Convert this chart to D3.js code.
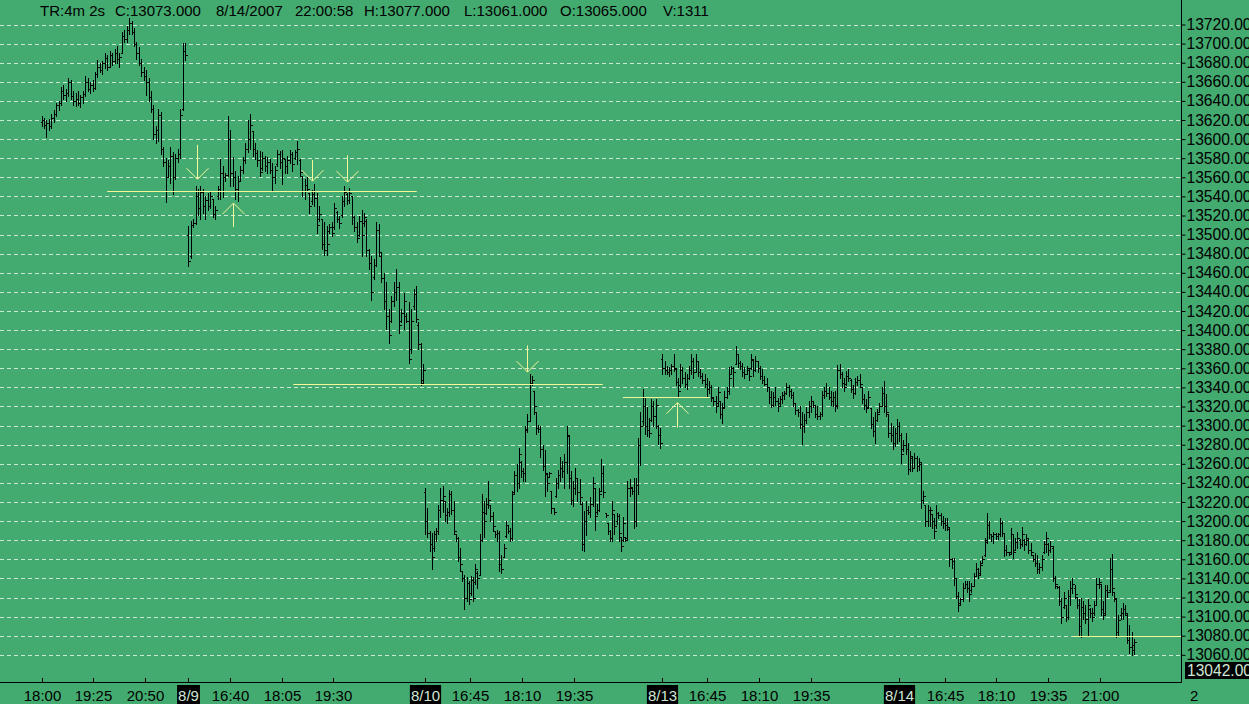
<!DOCTYPE html>
<html>
<head>
<meta charset="utf-8">
<script src="https://cdn.jsdelivr.net/npm/d3@7"></script>
<style>
  body { margin: 0; background: #43ab6f; overflow: hidden; }
  svg { display: block; font-family: "Liberation Sans", Arial, sans-serif; }
</style>
</head>
<body>
<div id="chart"></div>
<script>
// OHLC bars, 4 min, one array per session: [open, high, low, close]
const bars0808 = [
  [13618,13624,13614,13620],[13620,13622,13612,13615],[13615,13620,13602,13617],[13617,13621,13610,13614],
  [13614,13626,13612,13622],[13622,13630,13618,13626],[13626,13638,13624,13636],[13636,13640,13630,13638],
  [13638,13655,13636,13650],[13650,13657,13642,13646],[13646,13652,13640,13648],[13648,13664,13645,13660],
  [13660,13662,13642,13645],[13645,13650,13636,13640],[13640,13648,13635,13642],[13642,13650,13636,13638],
  [13638,13646,13634,13644],[13644,13650,13638,13647],[13647,13666,13645,13660],[13660,13664,13650,13652],
  [13652,13660,13648,13657],[13657,13662,13650,13654],[13654,13670,13652,13668],[13668,13683,13665,13676],
  [13676,13680,13670,13672],[13672,13682,13668,13680],[13680,13690,13674,13685],[13685,13688,13672,13676],
  [13676,13692,13675,13688],[13688,13690,13678,13682],[13682,13694,13680,13690],[13690,13698,13680,13684],
  [13684,13690,13676,13686],[13690,13712,13690,13708],[13708,13714,13702,13705],[13705,13718,13702,13714],
  [13714,13727,13710,13722],[13722,13724,13710,13712],[13712,13716,13698,13700],[13700,13702,13684,13690],
  [13690,13696,13678,13680],[13680,13684,13666,13670],[13670,13676,13662,13666],[13666,13672,13646,13660],
  [13660,13664,13640,13644],[13644,13650,13628,13632],[13632,13636,13600,13605],[13605,13614,13596,13610],
  [13610,13632,13598,13625],[13625,13628,13584,13590],[13590,13592,13572,13576],[13576,13580,13534,13560],
  [13560,13578,13560,13572],[13572,13592,13554,13582],[13582,13586,13543,13560],[13560,13584,13558,13580],
  [13580,13590,13576,13584],[13584,13632,13580,13625],[13632,13701,13630,13692],[13692,13701,13683,13688]
];
const bars0809 = [
  [13500,13509,13467,13472],[13478,13514,13476,13510],[13510,13516,13508,13512],[13512,13551,13511,13540],
  [13540,13548,13520,13528],[13528,13551,13516,13545],[13545,13548,13523,13530],[13530,13540,13516,13536],
  [13536,13544,13526,13530],[13530,13546,13528,13540],[13537,13537,13518,13522],[13522,13530,13516,13526],
  [13540,13551,13537,13548],[13548,13579,13537,13565],[13565,13572,13539,13560],[13560,13565,13556,13562],
  [13562,13624,13561,13600],[13600,13610,13551,13565],[13565,13581,13551,13560],[13560,13567,13537,13548],
  [13548,13561,13535,13556],[13556,13572,13556,13568],[13568,13581,13565,13578],[13578,13596,13575,13590],
  [13590,13620,13586,13600],[13600,13626,13590,13615],[13608,13608,13582,13590],[13590,13596,13579,13585],
  [13585,13589,13572,13578],[13578,13588,13561,13566],[13570,13586,13568,13580],[13580,13582,13567,13572],
  [13572,13581,13565,13576],[13576,13579,13565,13568],[13568,13575,13547,13560],[13560,13572,13554,13568],
  [13574,13589,13572,13584],[13584,13588,13570,13576],[13576,13589,13553,13580],[13579,13579,13565,13572],
  [13572,13582,13565,13578],[13578,13589,13575,13584],[13584,13586,13567,13574],[13580,13589,13579,13586],
  [13586,13598,13574,13590],[13578,13579,13561,13566],[13561,13561,13540,13546],[13546,13558,13537,13552],
  [13552,13560,13546,13548],[13544,13544,13523,13530],[13535,13547,13532,13542],[13542,13553,13530,13538],
  [13538,13544,13502,13510],[13516,13530,13514,13522],[13516,13516,13485,13490],[13490,13513,13479,13484],
  [13484,13509,13479,13490],[13504,13511,13502,13508],[13508,13513,13499,13502],[13508,13533,13506,13528],
  [13524,13525,13513,13516],[13516,13519,13507,13512],[13520,13540,13518,13535],[13535,13551,13530,13545],
  [13542,13544,13532,13536],[13536,13549,13533,13544],[13540,13540,13511,13518],[13518,13519,13504,13508],
  [13508,13513,13492,13496],[13500,13519,13499,13514],[13514,13526,13478,13500],[13512,13523,13509,13518],
  [13514,13516,13478,13484],[13484,13485,13464,13470],[13470,13478,13432,13440],[13456,13474,13453,13468],
  [13468,13513,13467,13505],[13505,13511,13478,13482],[13478,13481,13450,13455],[13455,13460,13422,13430],
  [13430,13450,13401,13415],[13415,13422,13387,13395],[13410,13436,13408,13430],[13430,13450,13425,13440],
  [13440,13464,13432,13445],[13445,13450,13397,13405],[13410,13422,13408,13418],[13418,13439,13401,13430],
  [13415,13418,13408,13410],[13410,13429,13366,13370],[13380,13422,13376,13410],[13425,13443,13422,13438],
  [13438,13446,13408,13412],[13405,13408,13380,13385],[13385,13387,13342,13345],[13348,13364,13345,13358]
];
const bars0810 = [
  [13230,13235,13186,13200],[13200,13214,13183,13188],[13188,13190,13169,13176],[13176,13188,13150,13162],
  [13172,13190,13169,13186],[13186,13193,13179,13190],[13190,13217,13186,13212],[13212,13235,13204,13222],
  [13222,13237,13210,13226],[13221,13221,13200,13206],[13206,13214,13198,13210],[13210,13233,13205,13228],
  [13228,13232,13207,13212],[13212,13221,13186,13190],[13186,13186,13179,13182],[13182,13183,13158,13162],
  [13162,13172,13148,13155],[13148,13148,13137,13140],[13140,13144,13108,13120],[13120,13141,13116,13135],
  [13135,13137,13113,13118],[13125,13142,13123,13138],[13138,13141,13116,13120],[13136,13155,13134,13150],
  [13146,13148,13130,13140],[13144,13186,13144,13180],[13180,13228,13179,13210],[13210,13221,13183,13200],
  [13208,13224,13207,13218],[13218,13242,13214,13222],[13217,13217,13200,13205],[13205,13210,13190,13195],
  [13190,13190,13183,13186],[13186,13191,13179,13188],[13188,13190,13148,13155],[13155,13165,13146,13150],
  [13162,13176,13162,13172],[13184,13200,13183,13196],[13196,13196,13188,13190],[13190,13193,13179,13182],
  [13182,13232,13180,13228],[13230,13252,13228,13248],[13248,13260,13231,13240],[13240,13277,13235,13270],
  [13262,13263,13246,13252],[13252,13256,13242,13250],[13250,13300,13242,13296],[13295,13312,13293,13305],
  [13305,13354,13305,13345],[13345,13352,13343,13348],[13336,13336,13312,13320],[13314,13314,13291,13298],
  [13298,13301,13293,13296],[13296,13300,13267,13275],[13275,13280,13253,13258],[13258,13274,13226,13250],
  [13249,13249,13231,13240],[13246,13251,13246,13250],[13231,13231,13209,13214],[13214,13214,13207,13210],
  [13226,13245,13225,13240],[13240,13254,13235,13248],[13248,13267,13242,13256],[13256,13263,13246,13252],
  [13252,13270,13235,13262],[13262,13300,13250,13290],[13289,13289,13235,13245],[13245,13252,13218,13222],
  [13222,13242,13216,13235],[13235,13256,13228,13245],[13245,13245,13221,13230],[13230,13244,13218,13225],
  [13218,13220,13170,13176],[13176,13211,13169,13200],[13200,13221,13185,13212],[13212,13216,13207,13210],
  [13210,13225,13204,13218],[13218,13246,13216,13240],[13235,13235,13191,13205],[13210,13218,13207,13212],
  [13212,13235,13211,13228],[13232,13265,13231,13250],[13250,13258,13225,13230],[13209,13209,13204,13206],
  [13198,13198,13186,13190],[13190,13191,13179,13182],[13182,13221,13179,13212],[13207,13207,13186,13195],
  [13200,13209,13197,13205],[13205,13207,13179,13188],[13183,13183,13169,13174],[13180,13204,13179,13198],
  [13183,13183,13179,13180],[13182,13242,13180,13235],[13235,13244,13226,13236],[13235,13235,13228,13232],
  [13232,13245,13193,13200],[13200,13245,13195,13238],[13238,13287,13228,13280],[13280,13314,13259,13300],
  [13305,13338,13301,13320],[13320,13329,13291,13300],[13300,13319,13289,13295],[13295,13308,13288,13292],
  [13306,13328,13305,13320],[13320,13326,13300,13310],[13310,13328,13298,13322],[13300,13301,13281,13290],
  [13290,13298,13277,13282]
];
const bars0813 = [
  [13370,13375,13354,13360],[13360,13368,13354,13358],[13358,13362,13354,13356],[13356,13361,13352,13358],
  [13358,13364,13354,13362],[13362,13375,13357,13360],[13359,13359,13343,13346],[13346,13350,13331,13336],
  [13342,13364,13340,13358],[13358,13361,13345,13350],[13350,13356,13340,13344],[13344,13354,13338,13350],
  [13350,13362,13349,13358],[13358,13375,13354,13368],[13368,13371,13350,13356],[13356,13375,13356,13368],
  [13368,13368,13352,13356],[13356,13359,13350,13352],[13352,13355,13345,13348],[13348,13354,13340,13344],
  [13344,13350,13331,13338],[13338,13347,13334,13340],[13340,13343,13326,13330],[13329,13329,13322,13326],
  [13326,13331,13314,13320],[13324,13340,13321,13335],[13326,13326,13308,13312],[13312,13324,13303,13318],
  [13319,13336,13319,13330],[13330,13340,13329,13336],[13336,13361,13333,13350],[13354,13362,13354,13360],
  [13360,13361,13341,13356],[13365,13383,13364,13375],[13375,13375,13361,13366],[13366,13368,13359,13362],
  [13362,13366,13352,13356],[13356,13361,13350,13354],[13354,13362,13354,13360],[13358,13359,13348,13352],
  [13360,13375,13359,13370],[13369,13369,13352,13358],[13358,13373,13357,13368],[13368,13368,13356,13360],
  [13360,13362,13349,13352],[13352,13359,13345,13348],[13348,13352,13342,13344],[13344,13350,13336,13340],
  [13340,13340,13324,13330],[13330,13336,13319,13322],[13322,13335,13321,13330],[13330,13340,13322,13326],
  [13326,13329,13315,13320],[13324,13331,13322,13328],[13328,13335,13324,13332],[13332,13336,13328,13334],
  [13334,13345,13333,13340],[13340,13343,13331,13336],[13336,13338,13329,13332],[13332,13335,13321,13324],
  [13324,13324,13312,13316],[13316,13317,13310,13314],[13314,13321,13298,13302],[13302,13314,13281,13300],
  [13300,13312,13293,13306],[13306,13319,13303,13314],[13314,13326,13309,13320],[13320,13331,13314,13326],
  [13326,13326,13319,13322],[13322,13322,13309,13312],[13312,13321,13307,13310],[13310,13314,13307,13312],
  [13312,13336,13310,13332],[13332,13340,13329,13336],[13336,13345,13331,13334],[13334,13340,13328,13330],
  [13330,13336,13322,13326],[13326,13335,13321,13330],[13330,13336,13315,13320],[13322,13363,13318,13358],
  [13358,13364,13350,13354],[13354,13356,13340,13345],[13345,13350,13336,13340],[13344,13357,13343,13352],
  [13352,13359,13347,13350],[13348,13349,13335,13338],[13338,13342,13329,13334],[13334,13350,13333,13346],
  [13346,13352,13343,13348],[13348,13354,13340,13344],[13340,13340,13324,13328],[13328,13333,13317,13322],
  [13322,13328,13314,13318],[13319,13336,13319,13330],[13318,13318,13298,13302],[13302,13309,13289,13294],
  [13294,13314,13282,13306],[13306,13317,13305,13312],[13314,13324,13314,13320],[13321,13340,13321,13334],
  [13334,13347,13314,13320],[13320,13333,13310,13314],[13312,13312,13288,13292],[13292,13303,13284,13290],
  [13290,13300,13275,13282],[13282,13298,13279,13292],[13292,13307,13282,13300]
];
const bars0814 = [
  [13300,13304,13284,13290],[13290,13292,13261,13270],[13276,13285,13273,13280],[13280,13292,13270,13275],
  [13275,13282,13249,13255],[13255,13273,13252,13268],[13266,13268,13252,13256],[13256,13271,13256,13266],
  [13266,13268,13252,13258],[13258,13266,13254,13262],[13260,13261,13214,13222],[13222,13231,13219,13226],
  [13217,13217,13195,13200],[13200,13217,13195,13212],[13212,13215,13195,13212],[13207,13207,13193,13200],
  [13200,13203,13182,13190],[13196,13217,13193,13208],[13208,13210,13203,13206],[13206,13208,13196,13200],
  [13200,13205,13193,13198],[13198,13203,13191,13196],[13196,13203,13191,13194],[13192,13194,13153,13160],
  [13160,13161,13151,13158],[13158,13161,13133,13140],[13140,13140,13119,13122],[13122,13126,13106,13112],
  [13114,13119,13112,13118],[13118,13135,13116,13130],[13130,13137,13130,13134],[13134,13137,13126,13130],
  [13130,13137,13116,13124],[13128,13135,13126,13132],[13132,13146,13132,13142],[13142,13156,13142,13150],
  [13150,13151,13140,13144],[13146,13158,13144,13154],[13156,13163,13156,13160],[13164,13182,13163,13178],
  [13180,13208,13177,13196],[13196,13200,13182,13186],[13186,13186,13179,13184],[13184,13189,13177,13186],
  [13186,13188,13181,13184],[13184,13188,13181,13186],[13186,13203,13184,13198],[13198,13200,13184,13188],
  [13188,13188,13163,13170],[13170,13175,13165,13168],[13168,13168,13165,13166],[13168,13193,13167,13186],
  [13186,13186,13161,13168],[13170,13182,13170,13178],[13178,13189,13172,13182],[13180,13181,13172,13176],
  [13176,13194,13174,13186],[13180,13181,13170,13176],[13176,13186,13175,13182],[13180,13181,13167,13170],
  [13170,13177,13165,13168],[13164,13165,13158,13160],[13160,13167,13153,13156],[13156,13165,13146,13150],
  [13150,13156,13146,13152],[13152,13165,13149,13160],[13168,13179,13167,13176],[13176,13189,13168,13182],
  [13176,13177,13165,13170],[13170,13179,13168,13174],[13172,13174,13137,13140],[13140,13142,13130,13134],
  [13132,13132,13130,13131],[13131,13132,13112,13116],[13116,13119,13093,13100],[13110,13126,13109,13120],
  [13112,13112,13095,13100],[13100,13128,13098,13122],[13122,13137,13112,13130],[13130,13140,13125,13134],
  [13130,13133,13119,13124],[13121,13121,13109,13112],[13112,13118,13081,13090],[13090,13119,13079,13110],
  [13110,13116,13098,13104],[13104,13112,13093,13098],[13098,13118,13081,13112],[13108,13109,13100,13104],
  [13104,13109,13095,13100],[13104,13116,13102,13112],[13112,13140,13112,13134],[13134,13140,13130,13136],
  [13134,13134,13102,13108],[13108,13116,13098,13102],[13104,13133,13102,13128],[13128,13133,13121,13126],
  [13128,13161,13126,13150],[13150,13166,13123,13130],[13126,13126,13116,13120],[13118,13119,13079,13084],
  [13084,13102,13081,13096],[13102,13109,13098,13104],[13104,13114,13098,13108],[13108,13112,13102,13104],
  [13102,13104,13072,13076],[13076,13091,13062,13068],[13068,13084,13060,13070],[13065,13077,13061,13073]
];

// sessions (15:30 - 22:00), first and last bar times
const sessionLabels = ["8/8", "8/9", "8/10", "8/13", "8/14"];
const sessionFirst = ["18:00", "15:31", "15:31", "15:31", "15:30"];
const sessionLast  = ["21:56", "21:58", "21:57", "21:57", "21:56"];
const sessionBars  = [bars0808, bars0809, bars0810, bars0813, bars0814];

const yTicks = [13720,13700,13680,13660,13640,13620,13600,13580,13560,13540,13520,13500,13480,13460,
  13440,13420,13400,13380,13360,13340,13320,13300,13280,13260,13240,13220,13200,13180,13160,13140,
  13120,13100,13080,13060];

const xTickDay  = [0,0,0,1,1,1,1,2,2,2,2,3,3,3,3,4,4,4,4,4];
const xTickTime = ["18:00","19:25","20:50","15:30","16:40","18:05","19:30","15:30","16:45","18:10","19:35",
                   "15:30","16:45","18:10","19:35","15:30","16:45","18:10","19:35","21:00"];
const xTickText = ["18:00","19:25","20:50","8/9","16:40","18:05","19:30","8/10","16:45","18:10","19:35",
                   "8/13","16:45","18:10","19:35","8/14","16:45","18:10","19:35","21:00"];

// yellow annotations
const lineDay0  = [0, 1, 2, 4];
const lineTime0 = ["19:48", "18:24", "20:56", "20:16"];
const lineDay1  = [1, 2, 3, null];
const lineTime1 = ["21:47", "20:23", "16:49", null];
const linePrice = [13546, 13344, 13330, 13080];

const arrowDay  = [1, 1, 1, 1, 2, 3];
const arrowTime = ["15:46", "16:45", "18:54", "19:53", "18:19", "15:55"];
const arrowTip  = [13558, 13533, 13556, 13555, 13356, 13324];
const arrowTail = [13594, 13508, 13578, 13583, 13384, 13298];

const headerParts = ["TR:4m 2s", "C:13073.000", "8/14/2007", "22:00:58", "H:13077.000", "L:13061.000", "O:13065.000", "V:1311"];
const headerX = [40, 115, 216, 295, 364, 464, 560, 663];
const lastPrice = 13042;

const width = 1249, height = 704;
const plotRight = 1181, plotBottom = 682;
const bg = "#43ab6f", pale = "#f6f69c";

const toMin = s => { const [h, m] = s.split(":").map(Number); return h * 60 + m - 930; };
const u = (day, t) => day * 390 + toMin(t);

const x = d3.scaleLinear().domain([390, 1560]).range([187.5, 899]);
const y = d3.scaleLinear().domain([13060, 13720]).range([654.8, 24.5]);

const svg = d3.select("#chart").append("svg")
  .attr("width", width).attr("height", height);

svg.append("rect").attr("width", width).attr("height", height).attr("fill", bg);

// dashed grid
svg.append("g").selectAll("line")
  .data(yTicks)
  .join("line")
  .attr("x1", 0).attr("x2", plotRight)
  .attr("y1", d => Math.round(y(d)) + 0.5).attr("y2", d => Math.round(y(d)) + 0.5)
  .attr("stroke", "#cde8d4")
  .attr("stroke-dasharray", "4,3")
  .attr("stroke-width", 1);

// bars
const barData = [];
sessionBars.forEach((arr, d) => {
  const t0 = u(d, sessionFirst[d]), t1 = u(d, sessionLast[d]);
  const step = (t1 - t0) / (arr.length - 1);
  arr.forEach((b, k) => barData.push({ t: t0 + k * step, o: b[0], h: b[1], l: b[2], c: b[3] }));
});

svg.append("g")
  .attr("fill", "none")
  .attr("stroke", "#000")
  .attr("stroke-width", 1)
  .attr("shape-rendering", "crispEdges")
  .selectAll("path")
  .data(barData)
  .join("path")
  .attr("d", b => {
    const cx = Math.round(x(b.t)) + 0.5;
    const yh = Math.round(y(b.h)), yl = Math.round(y(b.l)) + 1;
    const yo = Math.round(y(b.o)) + 0.5, yc = Math.round(y(b.c)) + 0.5;
    return `M${cx},${yh}V${yl}M${cx - 2},${yo}H${cx}M${cx},${yc}H${cx + 2}`;
  });

// yellow support / resistance lines
svg.append("g").selectAll("line")
  .data(linePrice.map((p, i) => ({ p, i })))
  .join("line")
  .attr("x1", d => x(u(lineDay0[d.i], lineTime0[d.i])))
  .attr("x2", d => lineDay1[d.i] === null ? plotRight : x(u(lineDay1[d.i], lineTime1[d.i])))
  .attr("y1", d => Math.round(y(d.p)) + 0.5).attr("y2", d => Math.round(y(d.p)) + 0.5)
  .attr("stroke", pale).attr("stroke-width", 1);

// arrows
svg.append("g").attr("fill", "none").attr("stroke", pale).attr("stroke-width", 1)
  .selectAll("path")
  .data(arrowTip.map((p, i) => ({ p, i })))
  .join("path")
  .attr("d", d => {
    const ax = Math.round(x(u(arrowDay[d.i], arrowTime[d.i]))) + 0.5;
    const tip = y(d.p), tail = y(arrowTail[d.i]);
    const s = tail < tip ? -11 : 11;
    return `M${ax},${tail}V${tip}M${ax - 11},${tip + s}L${ax},${tip}L${ax + 11},${tip + s}`;
  });

// right price axis
svg.append("line")
  .attr("x1", plotRight + 0.5).attr("x2", plotRight + 0.5)
  .attr("y1", 0).attr("y2", plotBottom + 0.5)
  .attr("stroke", "#000");

const yAxis = svg.append("g")
  .attr("transform", `translate(${plotRight + 0.5},0)`)
  .call(d3.axisRight(y).tickValues(yTicks).tickSize(4).tickFormat(d3.format(".2f")));
yAxis.select(".domain").remove();
yAxis.selectAll(".tick line").attr("stroke", "#000");
yAxis.selectAll(".tick text")
  .attr("x", 5)
  .attr("fill", "#000")
  .style("font-size", "15.6px")
  .style("font-family", "'Liberation Sans', Arial, sans-serif");

// last price box
const lpY = y(lastPrice) - 1.5;
svg.append("rect")
  .attr("x", plotRight + 4).attr("y", lpY - 8.5)
  .attr("width", 70).attr("height", 17)
  .attr("fill", "#000");
svg.append("text")
  .attr("x", plotRight + 6).attr("y", lpY + 5.5)
  .attr("fill", "#cfe6d6")
  .style("font-size", "15.6px")
  .text(d3.format(".2f")(lastPrice));

// bottom time axis
svg.append("line")
  .attr("x1", 0).attr("x2", plotRight + 0.5)
  .attr("y1", plotBottom + 0.5).attr("y2", plotBottom + 0.5)
  .attr("stroke", "#000");

const xt = svg.append("g").selectAll("g")
  .data(xTickText.map((s, i) => ({ s, i, isDate: s.includes("/") })))
  .join("g")
  .attr("transform", d => `translate(${Math.round(x(u(xTickDay[d.i], xTickTime[d.i]))) + 0.5},0)`);

xt.append("line")
  .attr("y1", plotBottom - 4).attr("y2", plotBottom)
  .attr("stroke", "#000");

xt.each(function(d) {
  const g = d3.select(this);
  const txt = g.append("text")
    .attr("y", 700.5)
    .attr("text-anchor", "middle")
    .style("font-size", "15px")
    .attr("fill", d.isDate ? "#cfe6d6" : "#000")
    .text(d.s);
  if (d.isDate) {
    const w = txt.node().getComputedTextLength();
    g.insert("rect", "text")
      .attr("x", -w / 2 - 1).attr("y", plotBottom + 3)
      .attr("width", w + 2).attr("height", height - plotBottom - 3)
      .attr("fill", "#000");
  }
});

svg.append("text")
  .attr("x", 1190).attr("y", 700.5)
  .style("font-size", "15px")
  .attr("fill", "#000")
  .text("2");

// header line
svg.append("g").selectAll("text")
  .data(headerParts)
  .join("text")
  .attr("x", (d, i) => headerX[i])
  .attr("y", 15.5)
  .style("font-size", "15px")
  .attr("fill", "#000")
  .text(d => d);
</script>
</body>
</html>
